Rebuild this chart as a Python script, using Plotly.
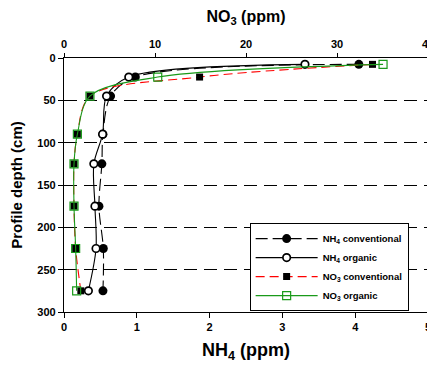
import plotly.graph_objects as go

depth = [7.5, 22.5, 45, 90, 125, 175, 225, 275]
nh4_conv = [4.05, 0.98, 0.64, 0.535, 0.52, 0.48, 0.54, 0.535]
nh4_org = [3.31, 0.89, 0.585, 0.53, 0.41, 0.425, 0.44, 0.335]
no3_conv = [33.9, 14.9, 2.85, 1.47, 1.1, 1.1, 1.28, 1.85]
no3_org = [35.06, 10.3, 2.85, 1.47, 1.1, 1.1, 1.28, 1.39]

names = ["<b>NH<sub>4</sub> conventional</b>", "<b>NH<sub>4</sub> organic</b>",
         "<b>NO<sub>3</sub> conventional</b>", "<b>NO<sub>3</sub> organic</b>"]
x_ticks = [0, 1, 2, 3, 4, 5]
x2_ticks = [0, 10, 20, 30, 40]
y_ticks = [0, 50, 100, 150, 200, 250, 300]

fig = go.Figure()
fig.add_trace(go.Scatter(
    x=nh4_conv, y=depth, name=names[0], mode="lines+markers",
    line=dict(color="black", width=1.1, dash="12px,5px", shape="spline", smoothing=0.9),
    marker=dict(symbol="circle", size=9, color="black"),
    xaxis="x", yaxis="y"))
fig.add_trace(go.Scatter(
    x=nh4_org, y=depth, name=names[1], mode="lines+markers",
    line=dict(color="black", width=1.1, shape="spline", smoothing=0.9),
    marker=dict(symbol="circle", size=7.5, color="white", line=dict(color="black", width=1.7)),
    xaxis="x", yaxis="y"))
fig.add_trace(go.Scatter(
    x=no3_conv, y=depth, name=names[2], mode="lines+markers",
    line=dict(color="red", width=1.1, dash="9px,5px", shape="spline", smoothing=0.9),
    marker=dict(symbol="square", size=7, color="black"),
    xaxis="x2", yaxis="y"))
fig.add_trace(go.Scatter(
    x=no3_org, y=depth, name=names[3], mode="lines+markers",
    line=dict(color="#1a9a1a", width=1.1, shape="spline", smoothing=0.9),
    marker=dict(symbol="square-open", size=8, color="#1a9a1a", line=dict(width=1.2)),
    xaxis="x2", yaxis="y"))

axis_font = dict(family="Liberation Sans, Arial", size=11, color="black")

# page body adds an 8px offset; size the figure so the plot area lands where the reference has it
fig.update_layout(
    width=427, height=355,
    margin=dict(l=56, r=7, t=50, b=51),
    paper_bgcolor="white", plot_bgcolor="white",
    font=dict(family="Liberation Sans, Arial", color="black"),
    xaxis=dict(
        range=[0, 5], tickvals=x_ticks, ticktext=[f"<b>{v}</b>" for v in x_ticks],
        ticks="outside", ticklen=5, automargin=False,
        tickcolor="black", showline=True, linecolor="black", linewidth=1.3,
        showgrid=False, zeroline=False, tickfont=axis_font,
        title=dict(text="<b>NH<sub>4</sub> (ppm)</b>", font=dict(size=18), standoff=14),
    ),
    xaxis2=dict(
        range=[0, 40], tickvals=x2_ticks, ticktext=[f"<b>{v}</b>" for v in x2_ticks],
        overlaying="x", side="top", automargin=False,
        ticks="outside", ticklen=4, tickcolor="black", showline=True, linecolor="black",
        linewidth=1.3, showgrid=False, zeroline=False, tickfont=axis_font,
        title=dict(text="<b>NO<sub>3</sub> (ppm)</b>", font=dict(size=16), standoff=18),
    ),
    yaxis=dict(
        range=[300, 0], tickvals=y_ticks, ticktext=[f"<b>{v}</b>" for v in y_ticks],
        ticks="outside", ticklen=5, automargin=False,
        tickcolor="black", showline=True, linecolor="black", linewidth=1.3, mirror="ticks",
        showgrid=True, gridcolor="black", gridwidth=1, griddash="13px,7px",
        zeroline=False, tickfont=axis_font,
        title=dict(text="<b>Profile depth (cm)</b>", font=dict(size=15), standoff=14),
    ),
    legend=dict(
        x=0.51, y=0.35, xanchor="left", yanchor="top",
        bgcolor="white", bordercolor="black", borderwidth=1,
        font=dict(size=9.5, color="black"),
        itemwidth=62, tracegroupgap=0,
    ),
    showlegend=True,
)

fig.write_html("out.html")
